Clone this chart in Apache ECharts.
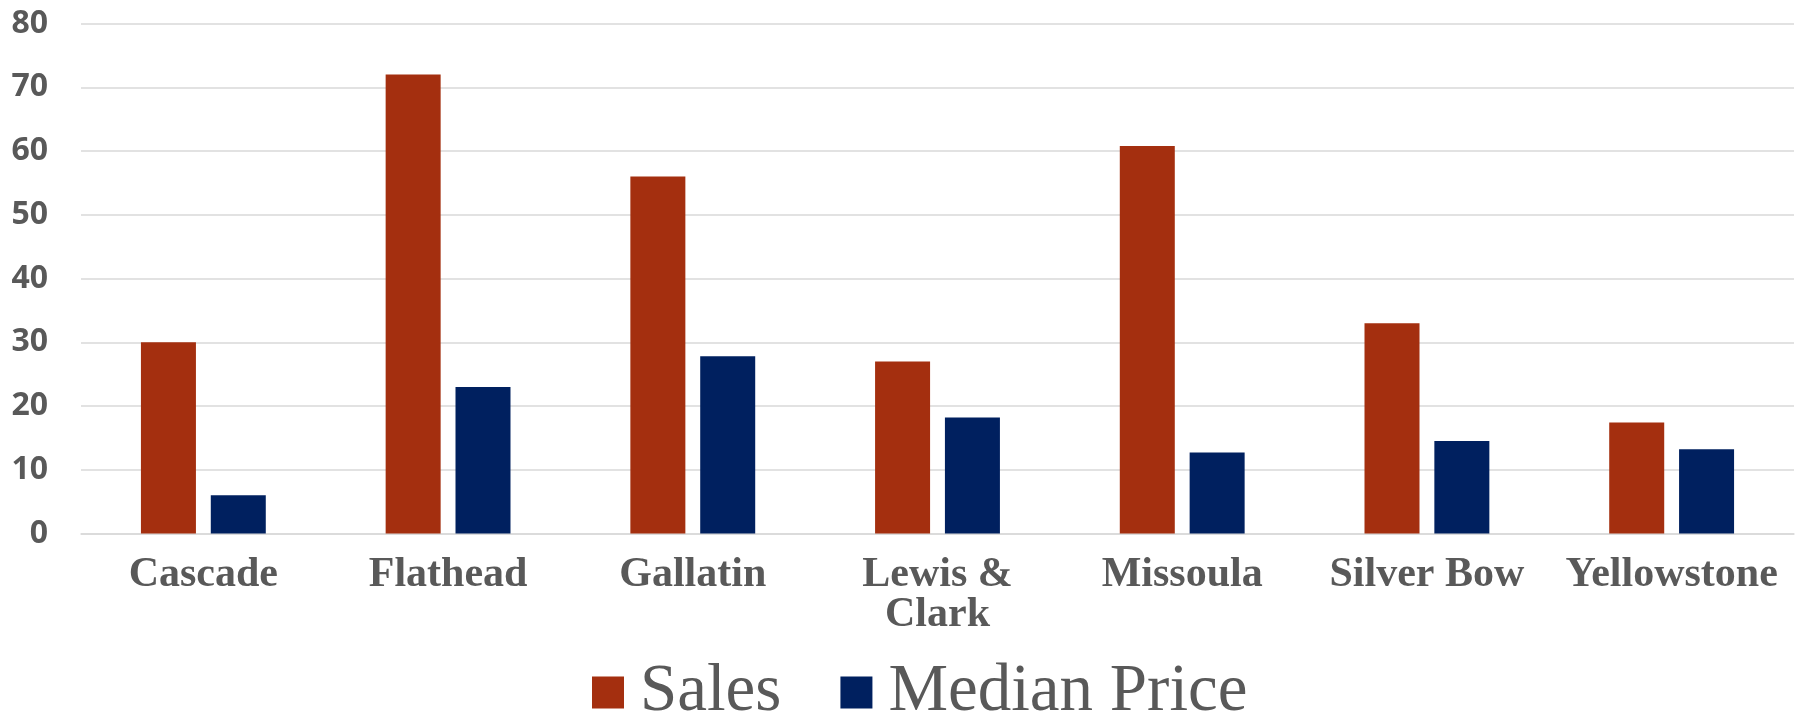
<!DOCTYPE html>
<html>
<head>
<meta charset="utf-8">
<script src="https://cdn.jsdelivr.net/npm/echarts@6/dist/echarts.min.js"></script>
<style>
  html, body { margin: 0; padding: 0; background: #ffffff; }
  #chart { width: 1797px; height: 715px; }
</style>
</head>
<body>
<div id="chart"></div>
<script>
const categories = ['Cascade', 'Flathead', 'Gallatin', 'Lewis & Clark', 'Missoula', 'Silver Bow', 'Yellowstone'];
const salesValues = [30.0, 72.0, 56.0, 27.0, 60.8, 33.0, 17.4];
const medianPriceValues = [6.0, 23.0, 27.8, 18.2, 12.7, 14.5, 13.2];
const seriesNames = ['Sales', 'Median Price'];
const yTicks = [0, 10, 20, 30, 40, 50, 60, 70, 80];

const chart = echarts.init(document.getElementById('chart'), null, { renderer: 'canvas' });
chart.setOption({
  animation: false,
  backgroundColor: '#ffffff',
  grid: { left: 81, right: 3, top: 23.5, bottom: 181.5, containLabel: false },
  legend: {
    data: seriesNames,
    left: 587,
    top: 654,
    itemWidth: 32,
    itemHeight: 32,
    itemGap: 59,
    icon: 'rect',
    textStyle: {
      fontFamily: 'Liberation Serif',
      fontSize: 67,
      color: '#595959',
      padding: [0, 0, 8, 11]
    }
  },
  xAxis: {
    type: 'category',
    data: categories,
    axisLine: { show: true, lineStyle: { color: '#d9d9d9', width: 1.5 } },
    axisTick: { show: false },
    axisLabel: {
      interval: 0,
      margin: 22,
      fontFamily: 'Liberation Serif',
      fontWeight: 'bold',
      fontSize: 42,
      lineHeight: 40,
      color: '#595959',
      formatter: function (v) { return v.replace('& ', '&\n'); }
    }
  },
  yAxis: {
    type: 'value',
    min: yTicks[0],
    max: yTicks[yTicks.length - 1],
    interval: yTicks[1] - yTicks[0],
    axisLine: { show: false },
    axisTick: { show: false },
    splitLine: { lineStyle: { color: '#d9d9d9', width: 1.5 } },
    axisLabel: {
      margin: 33,
      fontFamily: 'Open Sans',
      fontWeight: 'bold',
      fontSize: 32,
      color: '#595959'
    }
  },
  series: [
    {
      name: seriesNames[0],
      type: 'bar',
      data: salesValues,
      barWidth: 55,
      barGap: '27%',
      itemStyle: { color: '#A42F0F' }
    },
    {
      name: seriesNames[1],
      type: 'bar',
      data: medianPriceValues,
      barWidth: 55,
      barGap: '27%',
      itemStyle: { color: '#00205F' }
    }
  ]
});
</script>
</body>
</html>
